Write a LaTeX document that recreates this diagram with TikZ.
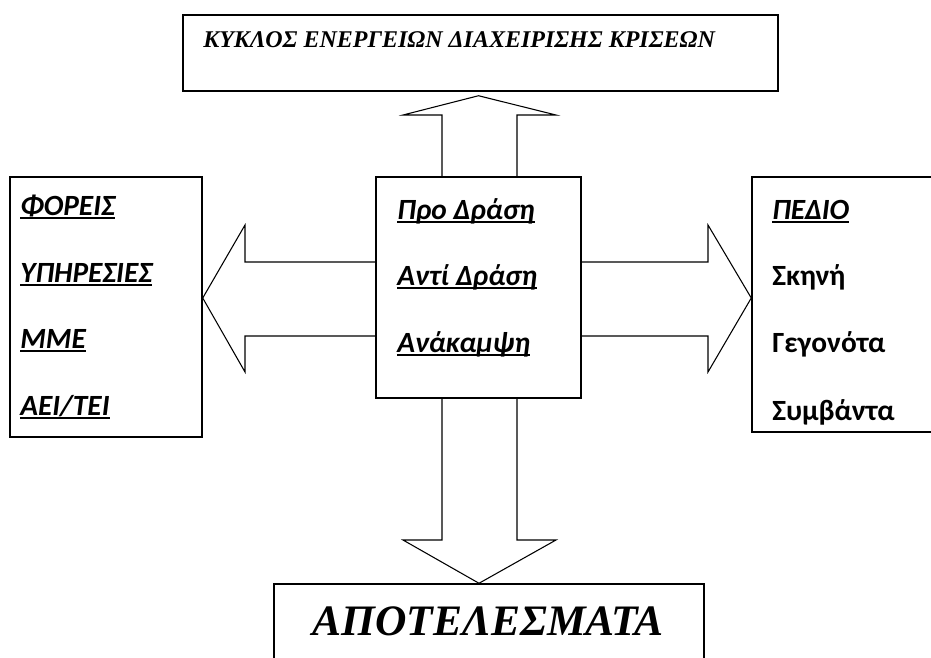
\documentclass[tikz,border=0pt]{standalone}
\usepackage{fontspec}
\setmainfont{Liberation Serif}
\newfontfamily\calib{Carlito}
\usepackage{tikz}
\usetikzlibrary{calc, fit}
\newcommand{\undl}[1]{\setbox0\hbox{#1}\rlap{\rule[-3pt]{\wd0}{1.4pt}}\box0}
\tikzstyle{blockarrow} = [line width=0.8pt, line join=miter]

\begin{document}
\begin{tikzpicture}[
    x=0.75pt, y=-0.75pt,
    box/.style={draw, line width=1.1pt, inner sep=0pt},
    item/.style={anchor=base west, inner sep=0pt, font=\calib\fontsize{22}{25}\selectfont\bfseries},
    itemu/.style={item, font=\calib\fontsize{22}{25}\selectfont\bfseries\itshape},
  ]
  \clip (0,0) rectangle (931,657);
  % boxes
  \node[box, fit={(183,15) (778,91)}] (kyklos) {};
  \node[box, fit={(376,177) (581,398)}] (drasi) {};
  \node[box, fit={(10,177) (202,437)}] (foreis) {};
  \node[box, fit={(752,177) (960,432)}] (pedio) {};
  \node[box, fit={(274,584) (704,700)}] (apotel) {};
  % titles
  \node[anchor=base west, inner sep=0pt, font=\fontsize{18}{21}\selectfont\bfseries\itshape]
    (kyklostxt) at (203,47) {ΚΥΚΛΟΣ ΕΝΕΡΓΕΙΩΝ ΔΙΑΧΕΙΡΙΣΗΣ ΚΡΙΣΕΩΝ};
  \node[anchor=base, inner sep=0pt, font=\fontsize{32.6}{38}\selectfont\bfseries\itshape]
    (apoteltxt) at (488,635) {ΑΠΟΤΕΛΕΣΜΑΤΑ};
  % left box
  \node[itemu] (f1) at (20,215) {\undl{ΦΟΡΕΙΣ}};
  \node[itemu] (f2) at (20,282) {\undl{ΥΠΗΡΕΣΙΕΣ}};
  \node[itemu] (f3) at (20,348) {\undl{ΜΜΕ}};
  \node[itemu] (f4) at (20,415) {\undl{ΑΕΙ/ΤΕΙ}};
  % center box
  \node[itemu] (d1) at (397,219) {\undl{Προ Δράση}};
  \node[itemu] (d2) at (397,285) {\undl{Αντί Δράση}};
  \node[itemu] (d3) at (397,352) {\undl{Ανάκαμψη}};
  % right box
  \node[itemu] (p1) at (772,219) {\undl{ΠΕΔΙΟ}};
  \node[item] (p2) at (772,285) {Σκηνή};
  \node[item] (p3) at (772,352) {Γεγονότα};
  \node[item] (p4) at (772,420) {Συμβάντα};
  % block arrows
  \draw[blockarrow] (drasi.north -| 442,0) -- (442,115) -- (403,115) -- ($(kyklos.south)+(-2,4)$)
    -- (556,115) -- (517,115) -- (drasi.north -| 517,0);
  \draw[blockarrow] (drasi.west |- 0,262) -- (245,262) -- (245,225) -- (foreis.east |- 0,298)
    -- (245,372) -- (245,336) -- (drasi.west |- 0,336);
  \draw[blockarrow] (drasi.east |- 0,262) -- (708,262) -- (708,225) -- (pedio.west |- 0,298)
    -- (708,372) -- (708,336) -- (drasi.east |- 0,336);
  \draw[blockarrow] (drasi.south -| 442,0) -- (442,540) -- (403,540) -- (apotel.north -| 479,0)
    -- (556,540) -- (517,540) -- (drasi.south -| 517,0);
\end{tikzpicture}
\end{document}
